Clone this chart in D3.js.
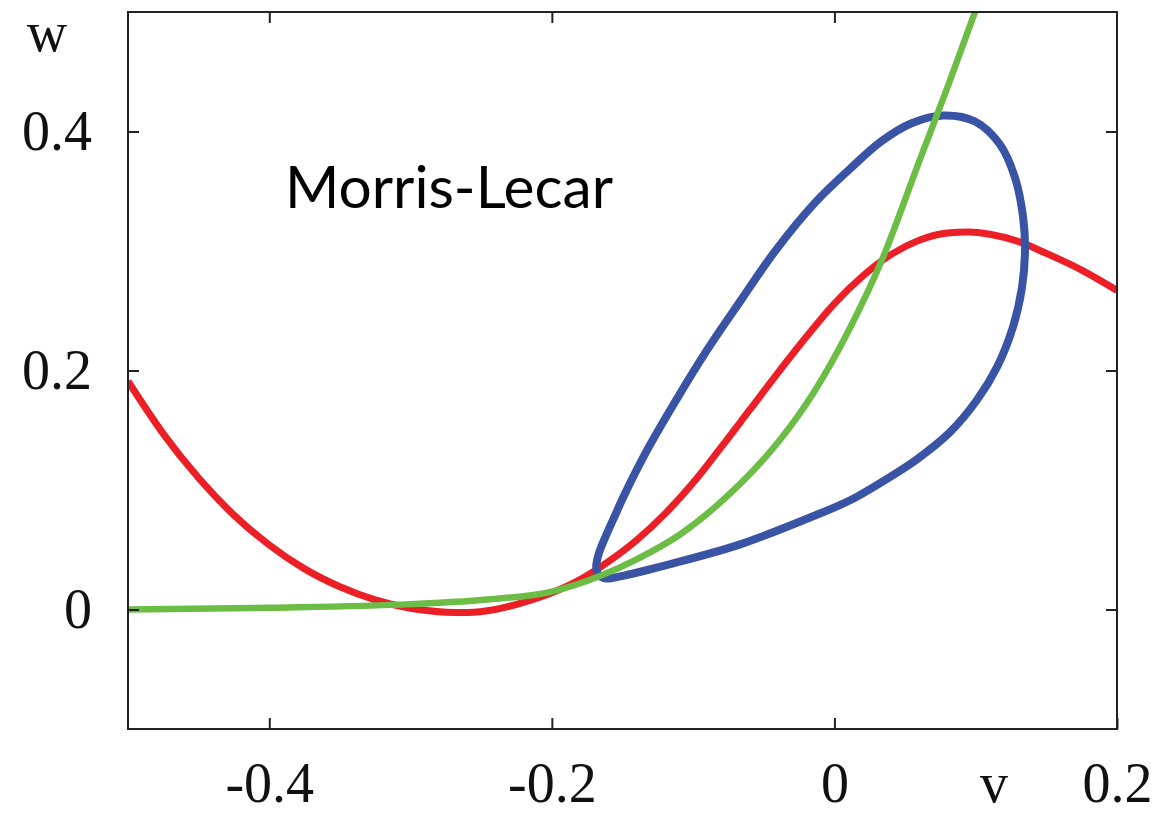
<!DOCTYPE html>
<html>
<head>
<meta charset="utf-8">
<script src="https://cdn.jsdelivr.net/npm/d3@7"></script>
<style>
  body { margin: 0; background: #fff; }
  .tick-label { font-family: "Liberation Serif", "Times New Roman", serif; font-size: 56px; fill: #111; }
</style>
</head>
<body>
<div id="chart"></div>
<script>
// v-nullcline (red)
const redV = [-0.5, -0.475, -0.45, -0.425, -0.4, -0.375, -0.35, -0.325, -0.3, -0.275, -0.26, -0.24, -0.22, -0.2, -0.18, -0.16, -0.14, -0.12, -0.1, -0.08, -0.06, -0.04, -0.02, 0, 0.02, 0.04, 0.06, 0.08, 0.095, 0.11, 0.13, 0.15, 0.175, 0.2]
const redW = [0.191, 0.147, 0.110, 0.079, 0.054, 0.034, 0.019, 0.008, 0.001, -0.0022, -0.0025, 0.000, 0.006, 0.014, 0.025, 0.040, 0.058, 0.080, 0.106, 0.136, 0.167, 0.198, 0.228, 0.256, 0.279, 0.297, 0.309, 0.315, 0.316, 0.314, 0.308, 0.298, 0.284, 0.267]

// w-nullcline (green)
const greenV = [-0.5, -0.4, -0.3, -0.25, -0.2, -0.166, -0.14, -0.109, -0.074, -0.0385, -0.015, 0.009, 0.0345, 0.06, 0.08, 0.0995, 0.11]
const greenW = [0, 0.0015, 0.0045, 0.008, 0.015, 0.028, 0.042, 0.063, 0.097, 0.142, 0.181, 0.231, 0.295, 0.375, 0.437, 0.5, 0.535]

// limit cycle (blue), starting on the lower branch next to the tip
const cycleV = [-0.1517, -0.1616, -0.1672, -0.1686, -0.1665, -0.1616, -0.1559, -0.1488, -0.1326, -0.112, -0.0901, -0.066, -0.0413, -0.0137, 0.0104, 0.033, 0.0542, 0.0769, 0.0995, 0.1172, 0.1278, 0.1335, 0.1349, 0.1328, 0.1264, 0.1151, 0.1009, 0.0818, 0.0585, 0.0344, 0.0111, -0.0151, -0.0668, -0.1142]
const cycleW = [0.0277, 0.026, 0.0293, 0.0361, 0.0478, 0.0621, 0.0771, 0.0956, 0.1333, 0.1753, 0.2172, 0.2591, 0.301, 0.3405, 0.3681, 0.3916, 0.4067, 0.4134, 0.4084, 0.3891, 0.3614, 0.3287, 0.301, 0.27, 0.2365, 0.2029, 0.1753, 0.1484, 0.1258, 0.1073, 0.0914, 0.078, 0.0545, 0.0386]

const xTicks = [-0.4, -0.2, 0, 0.2]
const xTickLabels = ["-0.4", "-0.2", "0", "0.2"]
const yTicks = [0, 0.2, 0.4]
const yTickLabels = ["0", "0.2", "0.4"]

function drawChart() {
  let dimensions = {
    width: 1159,
    height: 815,
    margin: { top: 12, right: 42, bottom: 86, left: 128 },
  }
  dimensions.boundedWidth = dimensions.width - dimensions.margin.left - dimensions.margin.right
  dimensions.boundedHeight = dimensions.height - dimensions.margin.top - dimensions.margin.bottom

  const svg = d3.select("#chart")
    .append("svg")
      .attr("width", dimensions.width)
      .attr("height", dimensions.height)

  const bounds = svg.append("g")
    .attr("transform", `translate(${dimensions.margin.left}, ${dimensions.margin.top})`)

  // scales
  const xScale = d3.scaleLinear()
    .domain([-0.5, 0.2])
    .range([0, dimensions.boundedWidth])
  const yScale = d3.scaleLinear()
    .domain([-0.1, 0.5])
    .range([dimensions.boundedHeight, 0])

  const lineGen = d3.line()
    .x(d => xScale(d[0]))
    .y(d => yScale(d[1]))

  const redPts = redV.map((v, i) => [v, redW[i]])
  const greenPts = greenV.map((v, i) => [v, greenW[i]])
  const cyclePts = cycleV.map((v, i) => [v, cycleW[i]])

  svg.append("defs").append("clipPath").attr("id", "plot-clip")
    .append("rect")
      .attr("width", dimensions.boundedWidth)
      .attr("height", dimensions.boundedHeight)

  const curves = bounds.append("g").attr("clip-path", "url(#plot-clip)")

  curves.append("path")
    .attr("d", lineGen.curve(d3.curveMonotoneX)(redPts))
    .attr("fill", "none")
    .attr("stroke", "#ec1f26")
    .attr("stroke-width", 7)

  curves.append("path")
    .attr("d", lineGen.curve(d3.curveCatmullRomClosed.alpha(0.5))(cyclePts))
    .attr("fill", "none")
    .attr("stroke", "#3953a5")
    .attr("stroke-width", 8)

  curves.append("path")
    .attr("d", lineGen.curve(d3.curveMonotoneX)(greenPts))
    .attr("fill", "none")
    .attr("stroke", "#6cbd45")
    .attr("stroke-width", 6.5)

  // axes, ticks pointing inward on all four sides
  const axisColor = "#222"
  const xAxisBottom = d3.axisBottom(xScale)
    .tickValues(xTicks)
    .tickFormat((d, i) => xTickLabels[i])
    .tickSizeInner(-11)
    .tickSizeOuter(0)
  const xAxisTop = d3.axisTop(xScale)
    .tickValues(xTicks.slice(0, 3))
    .tickFormat("")
    .tickSizeInner(-11)
    .tickSizeOuter(0)
  const yAxisLeft = d3.axisLeft(yScale)
    .tickValues(yTicks)
    .tickFormat((d, i) => yTickLabels[i])
    .tickSizeInner(-11)
    .tickSizeOuter(0)
    .tickPadding(36)
  const yAxisRight = d3.axisRight(yScale)
    .tickValues(yTicks)
    .tickFormat("")
    .tickSizeInner(-11)
    .tickSizeOuter(0)

  const gxb = bounds.append("g")
    .attr("transform", `translate(0, ${dimensions.boundedHeight})`)
    .call(xAxisBottom)
  gxb.selectAll("text")
    .attr("class", "tick-label")
    .attr("y", 73)
    .attr("dy", 0)
  bounds.append("g").call(xAxisTop)
  const gyl = bounds.append("g").call(yAxisLeft)
  gyl.selectAll("text")
    .attr("class", "tick-label")
    .attr("dy", "0.32em")
  bounds.append("g")
    .attr("transform", `translate(${dimensions.boundedWidth}, 0)`)
    .call(yAxisRight)

  bounds.selectAll(".domain").remove()
  bounds.selectAll(".tick line")
    .attr("stroke", axisColor)
    .attr("stroke-width", 2)
  bounds.selectAll(".tick text").attr("font-family", null).attr("font-size", null)

  bounds.append("rect")
    .attr("width", dimensions.boundedWidth)
    .attr("height", dimensions.boundedHeight)
    .attr("fill", "none")
    .attr("stroke", axisColor)
    .attr("stroke-width", 2)

  // axis names
  svg.append("text")
    .attr("class", "tick-label")
    .attr("x", 47)
    .attr("y", 51)
    .attr("text-anchor", "middle")
    .text("w")
  svg.append("text")
    .attr("class", "tick-label")
    .attr("x", 994)
    .attr("y", 802)
    .attr("text-anchor", "middle")
    .text("v")

  // model name
  const title = svg.append("text")
    .attr("x", 285)
    .attr("y", 208)
    .style("font-family", "Lato, 'Open Sans', sans-serif")
    .style("font-size", "56px")
    .attr("fill", "#000")
    .text("Morris-Lecar")
  const w = title.node().getComputedTextLength()
  title.style("font-size", `${56 * 328 / w}px`)
}
drawChart()
</script>
</body>
</html>
